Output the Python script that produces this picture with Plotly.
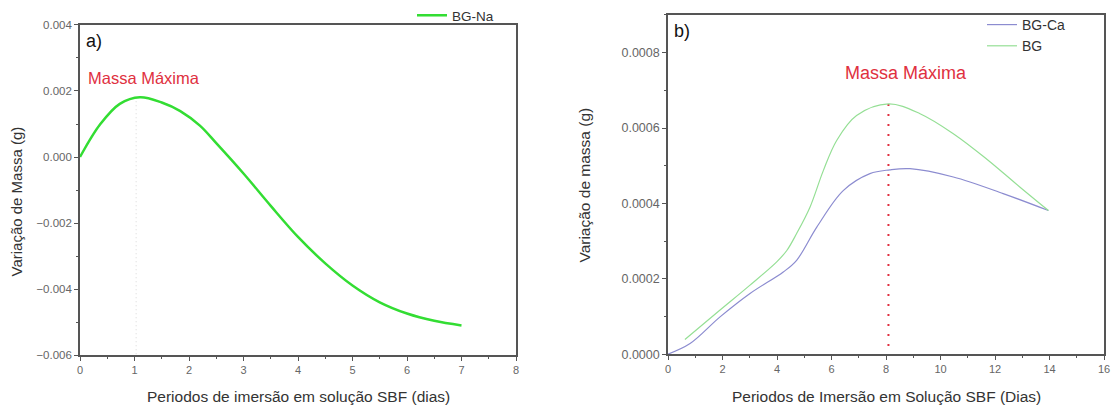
import plotly.graph_objects as go

# Panel a data (BG-Na)
days_a = [0, 0.37, 0.73, 1.1, 1.5, 1.84, 2.2, 2.5, 3.0, 3.5, 4.0, 4.5, 5.0, 5.5, 6.0, 6.5, 7.0]
mass_a = [0.0, 0.00099, 0.00161, 0.00181, 0.00165, 0.00139, 0.00095, 0.00042, -0.0005, -0.00148, -0.00242, -0.00322, -0.00389, -0.0044, -0.00474, -0.00496, -0.0051]
peak_a = [1.03, 0.00181]

# Panel b data
days_ca = [0, 0.81, 1.91, 3.01, 4.23, 4.72, 5.46, 6.43, 7.41, 8.14, 8.88, 10.47, 12.3, 13.96]
mass_ca = [0.0, 0.000028, 0.0000988, 0.000161, 0.000218, 0.000249, 0.000337, 0.000434, 0.000479, 0.000489, 0.000492, 0.00047, 0.000426, 0.000381]
days_bg = [0.62, 1.91, 3.01, 3.99, 4.36, 4.72, 5.21, 5.70, 6.19, 6.92, 8.09, 9.25, 10.47, 11.69, 12.92, 13.96]
mass_bg = [0.000039, 0.000117, 0.000183, 0.000245, 0.000275, 0.00032, 0.00039, 0.000487, 0.000567, 0.000633, 0.000664, 0.000638, 0.000585, 0.000518, 0.000443, 0.000381]
peak_b = [8.09, 0.000664]

FONT = "Liberation Sans, Arial, sans-serif"

# the page's body margin is removed by a post script, so the figure fills the window
W, H = 1115, 407


def px(x):
    return x / W


def py(y):
    return 1 - y / H


fig = go.Figure()

fig.add_trace(go.Scatter(x=[peak_a[0], peak_a[0]], y=[peak_a[1], -0.006], mode="lines",
                         line=dict(color="#d6d6d6", width=1, dash="1px,3px"), showlegend=False,
                         hoverinfo="skip", xaxis="x", yaxis="y"))
fig.add_trace(go.Scatter(x=days_a, y=mass_a, mode="lines", name="BG-Na",
                         line=dict(color="#33dd33", width=2.5, shape="spline", smoothing=1),
                         xaxis="x", yaxis="y", legend="legend"))

fig.add_trace(go.Scatter(x=[peak_b[0], peak_b[0]], y=[peak_b[1], 0], mode="lines",
                         line=dict(color="#e03040", width=2, dash="2px,8px"), showlegend=False,
                         hoverinfo="skip", xaxis="x2", yaxis="y2"))
fig.add_trace(go.Scatter(x=days_ca, y=mass_ca, mode="lines", name="BG-Ca",
                         line=dict(color="#8c8cd0", width=1.2, shape="spline", smoothing=1),
                         xaxis="x2", yaxis="y2", legend="legend2"))
fig.add_trace(go.Scatter(x=days_bg, y=mass_bg, mode="lines", name="BG",
                         line=dict(color="#95df95", width=1.2, shape="spline", smoothing=1),
                         xaxis="x2", yaxis="y2", legend="legend2"))

axcommon = dict(showgrid=False, zeroline=False, showline=True, linecolor="#555", linewidth=1.6,
                mirror=True, ticks="outside", ticklen=4, tickwidth=1.3, tickcolor="#555",
                automargin=False, fixedrange=True)
minor_style = dict(ticks="outside", ticklen=2, tickwidth=1.3, tickcolor="#555")

fig.update_layout(
    template="none",
    width=W, height=H, margin=dict(l=0, r=0, t=0, b=0),
    paper_bgcolor="white", plot_bgcolor="white",
    xaxis=dict(domain=[px(80), px(516)], range=[0, 8], dtick=1, anchor="y",
               minor=dict(dtick=0.5, **minor_style),
               tickfont=dict(family=FONT, size=11, color="#666"), **axcommon),
    yaxis=dict(domain=[py(355), py(24)], range=[-0.006, 0.004], dtick=0.002, tickformat=".3f",
               anchor="x", minor=dict(dtick=0.001, **minor_style),
               tickfont=dict(family=FONT, size=11.5, color="#666"), **axcommon),
    xaxis2=dict(domain=[px(668), px(1104)], range=[0, 16], dtick=2, anchor="y2",
                minor=dict(dtick=1, **minor_style),
                tickfont=dict(family=FONT, size=11, color="#666"), **axcommon),
    yaxis2=dict(domain=[py(354), py(14)], range=[0, 0.0009], dtick=0.0002, tickformat=".4f",
                anchor="x2", minor=dict(dtick=0.0001, **minor_style),
                tickfont=dict(family=FONT, size=12.5, color="#666"), **axcommon),
    legend=dict(x=px(412), y=py(-1), xanchor="left", yanchor="top", bgcolor="rgba(0,0,0,0)",
                font=dict(family=FONT, size=13.5, color="#333"),
                itemwidth=30, tracegroupgap=0),
    legend2=dict(x=px(982), y=py(9), xanchor="left", yanchor="top", bgcolor="rgba(0,0,0,0)",
                 font=dict(family=FONT, size=14, color="#333"),
                 itemwidth=30, tracegroupgap=0),
    annotations=[
        dict(text="a)", xref="paper", yref="paper", x=px(84), y=py(40), showarrow=False,
             xanchor="left", yanchor="middle", font=dict(family=FONT, size=18, color="#111")),
        dict(text="b)", xref="paper", yref="paper", x=px(672), y=py(30), showarrow=False,
             xanchor="left", yanchor="middle", font=dict(family=FONT, size=18, color="#111")),
        dict(text="Massa Máxima", xref="x", yref="y", x=1.17, y=0.0024, showarrow=False,
             font=dict(family=FONT, size=16.5, color="#e03040")),
        dict(text="Massa Máxima", xref="x2", yref="y2", x=8.72, y=0.000745, showarrow=False,
             font=dict(family=FONT, size=18, color="#e03040")),
        dict(text="Periodos de imersão em solução SBF (dias)", xref="paper", yref="paper",
             x=px(298), y=py(396), showarrow=False, xanchor="center", yanchor="middle",
             font=dict(family=FONT, size=15.5, color="#333")),
        dict(text="Periodos de Imersão em Solução SBF (Dias)", xref="paper", yref="paper",
             x=px(886), y=py(396), showarrow=False, xanchor="center", yanchor="middle",
             font=dict(family=FONT, size=15.5, color="#333")),
        dict(text="Variação de Massa (g)", xref="paper", yref="paper", textangle=-90,
             x=px(17), y=py(201), showarrow=False, xanchor="center", yanchor="middle",
             font=dict(family=FONT, size=15, color="#333")),
        dict(text="Variação de massa (g)", xref="paper", yref="paper", textangle=-90,
             x=px(585), y=py(185), showarrow=False, xanchor="center", yanchor="middle",
             font=dict(family=FONT, size=15.5, color="#333")),
    ],
)

fig.write_html("out.html", config={"displayModeBar": False},
               post_script="document.body.style.margin='0';")
